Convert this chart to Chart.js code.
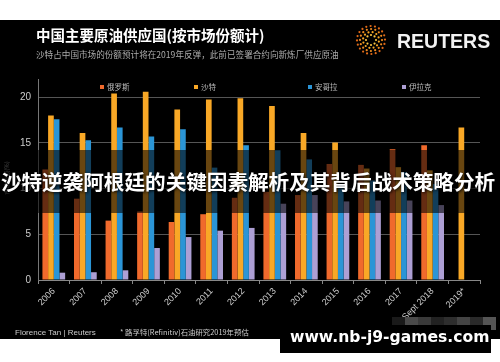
<!DOCTYPE html>
<html>
<head>
<meta charset="utf-8">
<script src="https://cdn.jsdelivr.net/npm/chart.js@4.4.0/dist/chart.umd.min.js"></script>
<style>
  body { margin: 0; background: #fff; }
  #c { position: absolute; left: 0; top: 0; }
</style>
</head>
<body>
<canvas id="c" width="500" height="362"></canvas>
<script>
// years on the x axis
var years = ["2006", "2007", "2008", "2009", "2010", "2011", "2012", "2013", "2014", "2015", "2016", "2017", "Sept 2018", "2019*"];
// market share in %
var russia = [12.1, 8.9, 6.5, 7.5, 6.35, 7.2, 9.0, 9.65, 9.3, 12.7, 12.6, 14.3, 14.75, null];
var saudi  = [18.0, 16.1, 20.4, 20.6, 18.65, 19.75, 19.9, 19.05, 16.1, 15.05, 12.2, 12.35, 12.0, 16.7];
var angola = [17.6, 15.3, 16.7, 15.7, 16.5, 12.3, 14.75, 14.2, 13.2, 10.5, 10.9, 11.8, 10.5, null];
var iraq   = [0.8, 0.85, 1.06, 3.5, 4.7, 5.4, 5.7, 8.35, 9.3, 8.6, 8.7, 8.7, 8.2, null];
var yTicks = [0, 5, 10, 15, 20];

var cjk = '"Noto Sans CJK SC", "Noto Sans", sans-serif';
var latin = '"Liberation Sans", Arial, sans-serif';

// background, titles and logo
var backdrop = {
  id: 'backdrop',
  beforeDraw: function(chart) {
    var ctx = chart.ctx;
    ctx.save();
    ctx.fillStyle = '#fff';
    ctx.fillRect(0, 0, 500, 362);
    ctx.fillStyle = '#000';
    ctx.fillRect(0, 20, 500, 319);

    ctx.fillStyle = '#fff';
    ctx.font = 'bold 14.5px ' + cjk;
    ctx.fillText('中国主要原油供应国(按市场份额计)', 36, 41);
    ctx.fillStyle = '#aaa';
    ctx.font = '8.6px ' + cjk;
    ctx.fillText('沙特占中国市场的份额预计将在2019年反弹，此前已签署合约向新炼厂供应原油', 36, 58);

    // reuters dot logo
    var rings = [[5, 8], [8, 12], [11, 16], [14, 20]];
    var cols = ['#f9c440', '#f5a623', '#ee8a1f', '#e06a18'];
    rings.forEach(function(r, k) {
      for (var i = 0; i < r[1]; i++) {
        var a = i / r[1] * Math.PI * 2 + k * 0.2;
        ctx.fillStyle = cols[k];
        ctx.beginPath();
        ctx.arc(371 + Math.cos(a) * r[0], 40 + Math.sin(a) * r[0], 1.1, 0, Math.PI * 2);
        ctx.fill();
      }
    });
    ctx.fillStyle = '#f2f2f2';
    ctx.font = 'bold 19.5px ' + latin;
    ctx.fillText('REUTERS', 397, 48);

    // y axis title
    ctx.translate(9, 178);
    ctx.rotate(-Math.PI / 2);
    ctx.fillStyle = '#888';
    ctx.font = '6px ' + cjk;
    ctx.textAlign = 'center';
    ctx.fillText('市场份额(%)', 0, 0);
    ctx.restore();
  },
  afterDraw: function(chart) {
    var ctx = chart.ctx;
    ctx.save();
    // legend
    var legendX = [100, 194, 308, 402];
    ctx.font = '7.5px ' + cjk;
    ctx.textBaseline = 'middle';
    chart.data.datasets.forEach(function(ds, i) {
      ctx.fillStyle = ds.backgroundColor;
      ctx.fillRect(legendX[i], 85, 4, 4);
      ctx.fillStyle = '#bbb';
      ctx.fillText(ds.label, legendX[i] + 7, 87);
    });

    // dark band with headline
    ctx.fillStyle = 'rgba(0,0,0,0.58)';
    ctx.fillRect(0, 150, 500, 63);
    ctx.font = 'bold 20.6px ' + cjk;
    ctx.textAlign = 'center';
    ctx.shadowColor = 'rgba(0,0,0,0.9)';
    ctx.shadowBlur = 3;
    ctx.shadowOffsetX = 1;
    ctx.shadowOffsetY = 1;
    ctx.fillStyle = '#fff';
    ctx.fillText('沙特逆袭阿根廷的关键因素解析及其背后战术策略分析', 248, 182);
    ctx.shadowColor = 'transparent';

    // footer
    ctx.textAlign = 'left';
    ctx.textBaseline = 'alphabetic';
    ctx.fillStyle = '#ccc';
    ctx.font = '8px ' + latin;
    ctx.fillText('Florence Tan | Reuters', 15, 335);
    ctx.font = '7.4px ' + cjk;
    ctx.fillText('* 路孚特(Refinitiv)石油研究2019年预估', 120, 335);

    // blurred strip and watermark
    var greys = ['#1a1a1a', '#4a4a4a', '#3a3a3a', '#222', '#2e2e2e', '#444', '#2a2a2a', '#555'];
    greys.forEach(function(g, i) {
      ctx.fillStyle = g;
      ctx.fillRect(392 + i * 13, 317, 13, 13);
    });
    ctx.fillStyle = '#000';
    ctx.fillRect(280, 325, 211, 28);
    ctx.fillStyle = '#fff';
    ctx.font = 'bold 15.6px "DejaVu Sans", sans-serif';
    ctx.fillText('www.nb-j9-games.com', 290, 342);
    ctx.restore();
  }
};

var chart = new Chart(document.getElementById('c'), {
  type: 'bar',
  data: {
    labels: years,
    datasets: [
      { label: '俄罗斯', data: russia, backgroundColor: '#f06a2c' },
      { label: '沙特', data: saudi, backgroundColor: '#f9a826' },
      { label: '安哥拉', data: angola, backgroundColor: '#2b95d6' },
      { label: '伊拉克', data: iraq, backgroundColor: '#ad9fd4' }
    ]
  },
  options: {
    responsive: false,
    animation: false,
    devicePixelRatio: 1,
    layout: { padding: { left: 0, right: 20, top: 79, bottom: 0 } },
    datasets: { bar: { categoryPercentage: 0.72, barPercentage: 1.0 } },
    plugins: { legend: { display: false }, tooltip: { enabled: false } },
    scales: {
      x: {
        grid: { drawOnChartArea: false, color: '#888', tickLength: 4 },
        border: { color: '#888' },
        ticks: { color: '#ccc', font: { size: 9, family: latin }, maxRotation: 45, minRotation: 45, padding: 2 },
        afterFit: function(s) { s.height = 82; }
      },
      y: {
        min: 0,
        max: 22,
        afterBuildTicks: function(s) {
          s.ticks = yTicks.map(function(v) { return { value: v }; });
        },
        grid: { color: '#555', drawTicks: false },
        border: { color: '#777' },
        ticks: { color: '#ccc', font: { size: 10, family: latin }, padding: 7 },
        afterFit: function(s) { s.width = 38; }
      }
    }
  },
  plugins: [backdrop]
});
</script>
</body>
</html>
